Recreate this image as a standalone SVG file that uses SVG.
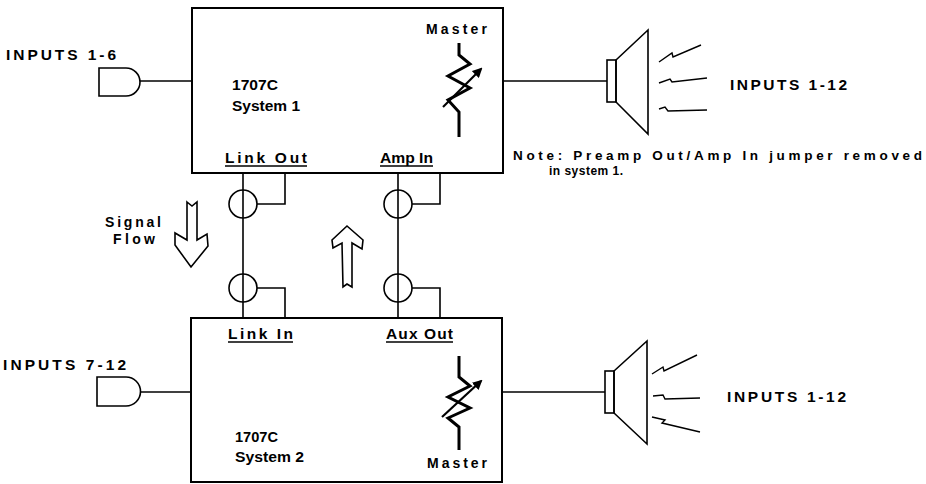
<svg xmlns="http://www.w3.org/2000/svg" width="926" height="484" viewBox="0 0 926 484">
<style>
  text { font-family: "Liberation Sans", Arial, sans-serif; font-weight: bold; fill: #000; }
  .lbl { font-size: 15.5px; }
  .sm { font-size: 14px; }
  .nt { font-size: 13.5px; }
  .nt2 { font-size: 12px; }
  .box { fill: none; stroke: #000; stroke-width: 2; }
  .ln { fill: none; stroke: #000; stroke-width: 1.6; }
  .thin { fill: none; stroke: #000; stroke-width: 1.4; }
  .thick { fill: none; stroke: #000; stroke-width: 3; stroke-linejoin: miter; }
  .ul { stroke: #000; stroke-width: 1.6; }
</style>
<defs>
  <marker id="ah" viewBox="0 0 10 10" refX="8" refY="5" markerWidth="4.5" markerHeight="4.5" orient="auto">
    <path d="M0,0 L10,5 L0,10 Z" fill="#000"/>
  </marker>
</defs>
<rect width="926" height="484" fill="#fff"/>

<g id="system1">
  <rect class="box" x="192" y="8" width="311" height="165"/>
  <text class="sm" x="232" y="90" textLength="46" lengthAdjust="spacingAndGlyphs">1707C</text>
  <text class="sm" x="232" y="111" textLength="68" lengthAdjust="spacingAndGlyphs">System 1</text>
  <text class="lbl" x="225" y="163" textLength="82" lengthAdjust="spacing">Link Out</text>
  <line class="ul" x1="225" y1="166" x2="307" y2="166"/>
  <text class="lbl" x="380" y="163" textLength="53" lengthAdjust="spacingAndGlyphs">Amp In</text>
  <line class="ul" x1="380" y1="166" x2="433" y2="166"/>
  <text class="sm" x="426" y="34" textLength="61" lengthAdjust="spacing">Master</text>
  <polyline class="thick" points="459,43 459,55 470,64 448,76 470,88 448,100 459,112 459,137"/>
  <line x1="443" y1="107" x2="481" y2="69" stroke="#000" stroke-width="2.2" marker-end="url(#ah)"/>
</g>

<g id="system2">
  <rect class="box" x="191" y="318" width="311" height="164"/>
  <text class="sm" x="235" y="442" textLength="43" lengthAdjust="spacingAndGlyphs">1707C</text>
  <text class="sm" x="235" y="462" textLength="69" lengthAdjust="spacingAndGlyphs">System 2</text>
  <text class="lbl" x="228" y="339" textLength="65" lengthAdjust="spacing">Link In</text>
  <line class="ul" x1="228" y1="342" x2="293" y2="342"/>
  <text class="lbl" x="386" y="339" textLength="67" lengthAdjust="spacing">Aux Out</text>
  <line class="ul" x1="386" y1="342" x2="453" y2="342"/>
  <polyline class="thick" points="459,356 459,377 470,386 448,397 470,408 448,418 459,427 459,450"/>
  <line x1="442" y1="417" x2="481" y2="381" stroke="#000" stroke-width="2.2" marker-end="url(#ah)"/>
  <text class="sm" x="427" y="468" textLength="60" lengthAdjust="spacing">Master</text>
</g>

<g id="input1">
  <text class="lbl" x="6" y="60" textLength="110" lengthAdjust="spacing">INPUTS 1-6</text>
  <path class="ln" d="M99,68 H126 A14,14 0 0 1 126,96 H99 Z"/>
</g>

<g id="input2">
  <text class="lbl" x="3" y="370" textLength="123" lengthAdjust="spacing">INPUTS 7-12</text>
  <path class="ln" d="M97,377 H126 A14.5,14.5 0 0 1 126,406 H97 Z"/>
</g>

<g id="speaker1">
  <rect class="ln" x="607" y="60" width="9" height="42"/>
  <polygon class="ln" points="616,60 648,30 648,134 616,102"/>
  <polyline class="thin" points="659,62 672,53 673,57 701,45"/>
  <polyline class="thin" points="659,83 670,79 672,82 707,78"/>
  <polyline class="thin" points="659,109 665,107 668,111 707,110"/>
  <text class="lbl" x="730" y="90" textLength="117" lengthAdjust="spacing">INPUTS 1-12</text>
</g>

<g id="speaker2">
  <rect class="ln" x="605" y="371" width="9" height="42"/>
  <polygon class="ln" points="614,371 647,341 647,444 614,413"/>
  <polyline class="thin" points="652,374 663,367 664,371 697,355"/>
  <polyline class="thin" points="653,396 663,395 665,399 700,398"/>
  <polyline class="thin" points="652,417 665,420 662,423 700,432"/>
  <text class="lbl" x="727" y="402" textLength="119" lengthAdjust="spacing">INPUTS 1-12</text>
</g>

<g id="note">
  <text class="nt" x="513" y="160" textLength="409" lengthAdjust="spacing">Note: Preamp Out/Amp In jumper removed</text>
  <text class="nt2" x="549" y="175" textLength="74" lengthAdjust="spacing">in system 1.</text>
</g>

<g id="signal-flow">
  <text class="sm" x="105" y="227" textLength="56" lengthAdjust="spacing">Signal</text>
  <text class="sm" x="113" y="244" textLength="42" lengthAdjust="spacing">Flow</text>
  <path class="ln" d="M187,202 L192,206 L197,202 L197,240 L207,234 L208,246 L191,267 L175,245 L175,233 L187,240 Z"/>
</g>

<g id="up-arrow">
  <path class="ln" d="M347,226 L363,240 L362,249 L352,243 L352,287 L347,284 L343,287 L342,243 L333,248 L332,240 Z"/>
</g>

<g id="connectors">
  <line class="ln" x1="140" y1="81" x2="192" y2="81"/>
  <line class="ln" x1="140" y1="392" x2="191" y2="392"/>
  <line class="ln" x1="503" y1="81" x2="607" y2="81"/>
  <line class="ln" x1="502" y1="392" x2="605" y2="392"/>
  <line class="ln" x1="243" y1="173" x2="243" y2="318"/>
  <circle class="ln" cx="243" cy="204" r="14"/>
  <circle class="ln" cx="243" cy="288" r="14"/>
  <polyline class="ln" points="257,204 285,204 285,173"/>
  <polyline class="ln" points="257,288 285,288 285,318"/>
  <line class="ln" x1="398" y1="173" x2="398" y2="318"/>
  <circle class="ln" cx="398" cy="204" r="14"/>
  <circle class="ln" cx="398" cy="288" r="14"/>
  <polyline class="ln" points="412,204 440,204 440,173"/>
  <polyline class="ln" points="412,288 440,288 440,318"/>
</g>
</svg>
